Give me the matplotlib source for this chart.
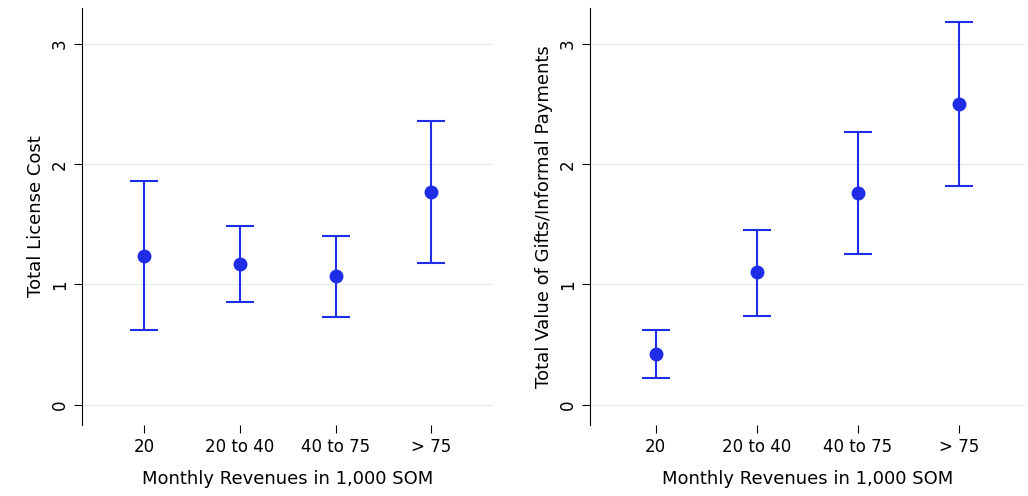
import numpy as np
import matplotlib
matplotlib.use("Agg")
from matplotlib import pyplot as plt

cats = ["20", "20 to 40", "40 to 75", "> 75"]
license_mean = [1.24, 1.17, 1.07, 1.77]
license_lo = [0.62, 0.85, 0.73, 1.18]
license_hi = [1.86, 1.49, 1.40, 2.36]
gifts_mean = [0.42, 1.10, 1.76, 2.50]
gifts_lo = [0.22, 0.74, 1.25, 1.82]
gifts_hi = [0.62, 1.45, 2.27, 3.18]

blue = "#1f2de8"
fig = plt.figure(figsize=(10.28, 4.96), dpi=100)

def panel(rect, mean, lo, hi, ylabel):
    ax = fig.add_axes(rect)
    x = np.arange(1, len(cats) + 1)
    mean = np.array(mean)
    err = [mean - np.array(lo), np.array(hi) - mean]
    ax.errorbar(x, mean, yerr=err, fmt="o", color=blue, ms=9, capsize=10,
                elinewidth=1.5, capthick=1.5)
    ax.set_xlim(0.35, 4.65)
    ax.set_ylim(-0.17, 3.3)
    ax.set_xticks(x)
    ax.set_xticklabels(cats, fontsize=12)
    ax.set_yticks([0, 1, 2, 3])
    ax.set_yticklabels(["0", "1", "2", "3"], fontsize=12, rotation=90, va="center")
    ax.grid(axis="y", color="#e6ecee", lw=1)
    ax.set_axisbelow(True)
    for s in ["top", "right", "bottom"]:
        ax.spines[s].set_visible(False)
    ax.tick_params(axis="x", length=6)
    ax.tick_params(axis="y", length=6)
    ax.set_xlabel("Monthly Revenues in 1,000 SOM", fontsize=13, labelpad=10)
    ax.set_ylabel(ylabel, fontsize=13)
    return ax

panel([0.080, 0.143, 0.40, 0.841], license_mean, license_lo, license_hi, "Total License Cost")
panel([0.574, 0.143, 0.423, 0.841], gifts_mean, gifts_lo, gifts_hi, "Total Value of Gifts/Informal Payments")

fig.savefig("out.png", dpi=100)
